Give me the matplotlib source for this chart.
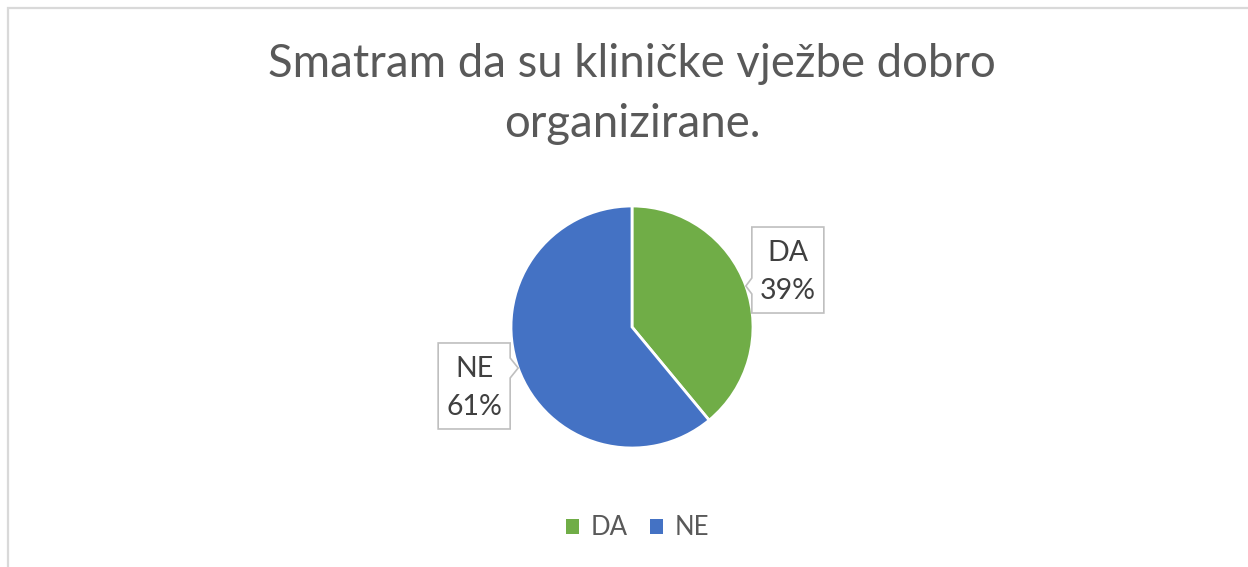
import numpy as np
import matplotlib
matplotlib.use("Agg")
import matplotlib.pyplot as plt
from matplotlib.patches import Polygon

plt.rcParams['font.family'] = ['Lato', 'DejaVu Sans']

# podaci
categories = ['DA', 'NE']
shares = [39, 61]
colors = ['#70AD47', '#4472C4']
title_lines = ['Smatram da su kliničke vježbe dobro', 'organizirane.']

W, H = 1248, 567


def py(y):
    """pretvori y iz piksela (odozgo) u koordinate osi"""
    return H - y


fig = plt.figure(figsize=(W / 100, H / 100), dpi=100)
ax = fig.add_axes([0, 0, 1, 1])
ax.set_xlim(0, W)
ax.set_ylim(0, H)
ax.set_aspect('equal')
ax.axis('off')

# okvir grafikona (samo lijevi i gornji rub vidljiv)
ax.plot([8, 8, W + 5], [py(H + 5), py(8), py(8)], color='#D9D9D9', lw=1.6,
        solid_joinstyle='miter')

# naslov
tc = '#595959'
ax.text(632, py(77), title_lines[0], ha='center', va='baseline', fontsize=32.8, color=tc)
ax.text(632, py(137), title_lines[1], ha='center', va='baseline', fontsize=32.8, color=tc)

# pita
cx, cy, r = 632, py(327), 121
wedges, _ = ax.pie(shares, colors=colors, startangle=90, counterclock=False,
                   center=(cx, cy), radius=r,
                   wedgeprops=dict(edgecolor='white', linewidth=2))
ax.set_xlim(0, W)
ax.set_ylim(0, H)

# oznake s oblačićima
box_w, box_h, notch = 72, 86, 8
total = sum(shares)
start = 90.0
for cat, val, wedge in zip(categories, shares, wedges):
    span = 360.0 * val / total
    mid = np.deg2rad(start - span / 2)
    start -= span
    tx = cx + r * np.cos(mid)
    ty = cy + r * np.sin(mid)
    if np.cos(mid) >= 0:
        x0 = tx + 6
        x1 = x0 + box_w
        top = ty + 59
        pts = [(x0, top), (x1, top), (x1, top - box_h), (x0, top - box_h),
               (x0, ty - notch), (tx, ty), (x0, ty + notch)]
    else:
        x1 = tx - 8
        x0 = x1 - box_w
        top = ty + 25
        pts = [(x0, top), (x1, top), (x1, ty + 10), (tx, ty), (x1, ty - 10),
               (x1, top - box_h), (x0, top - box_h)]
    ax.add_patch(Polygon(pts, closed=True, facecolor='white', edgecolor='#BFBFBF',
                         lw=1.2, zorder=3))
    xc = (x0 + x1) / 2
    ax.text(xc, top - 34, cat, ha='center', va='baseline', fontsize=20.5,
            color='#404040', zorder=4)
    ax.text(xc, top - 72, f'{val}%', ha='center', va='baseline', fontsize=20.5,
            color='#404040', zorder=4)

# legenda
leg = fig.legend(wedges, categories, loc='center', bbox_to_anchor=(0.511, 0.069),
                 ncol=2, frameon=False, fontsize=18.5, handlelength=0.5,
                 handleheight=0.5, handletextpad=0.47, columnspacing=0.85)
for t in leg.get_texts():
    t.set_color(tc)
for h in leg.legend_handles:
    h.set_edgecolor('none')

fig.savefig('out.png', dpi=100, facecolor='white')
